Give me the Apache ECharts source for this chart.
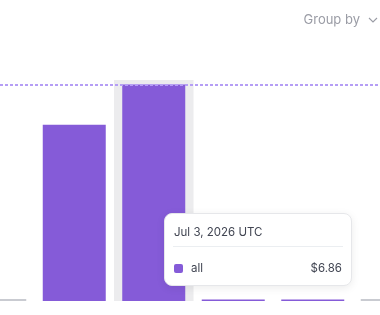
<!DOCTYPE html>
<html>
<head>
<meta charset="utf-8">
<script src="https://cdn.jsdelivr.net/npm/echarts@6/dist/echarts.min.js"></script>
<style>
  html, body { margin: 0; padding: 0; background: #fff; }
  #chart { width: 380px; height: 315px; }
</style>
</head>
<body>
<div id="chart"></div>
<script>
    // 数据
    var categories = ['Jul 1, 2026', 'Jul 2, 2026', 'Jul 3, 2026', 'Jul 4, 2026', 'Jul 5, 2026', 'Jul 6, 2026'];
    var values = [0.06, 5.58, 6.86, 0.05, 0.05, 0.06];
    var noData = [true, false, false, false, false, true];
    var seriesName = 'all';
    var maxValue = 6.86;
    var hoverIndex = 2;

    var purple = '#855bd8';

    var myChart = echarts.init(document.getElementById('chart'));

    var option = {
        animation: false,
        textStyle: { fontFamily: 'Inter, "Noto Sans", sans-serif' },
        grid: { left: -45, right: -52, top: 80, bottom: 14, outerBoundsMode: 'none' },
        graphic: [
            {
                type: 'text', right: 20, top: 14,
                style: { text: 'Group by', fill: '#9a9ca5', fontSize: 13, fontFamily: 'Inter, sans-serif' }
            },
            {
                type: 'polyline',
                shape: { points: [[369, 18], [373, 22], [377, 18]] },
                style: { stroke: '#9a9ca5', lineWidth: 1.1, fill: null }
            }
        ],
        tooltip: {
            trigger: 'axis',
            alwaysShowContent: true,
            axisPointer: {
                type: 'shadow',
                z: 1,
                shadowStyle: { color: '#ececee', opacity: 1 }
            },
            position: function () { return [164, 213]; },
            padding: 0,
            borderWidth: 1,
            borderColor: '#e6e7ea',
            borderRadius: 8,
            backgroundColor: '#fff',
            extraCssText: 'box-shadow:0 2px 8px rgba(0,0,0,0.08);width:186px;',
            formatter: function (params) {
                var p = params[0];
                return '<div style="font-family:Inter,sans-serif;font-size:11.5px;color:#414552;">' +
                    '<div style="padding:11px 9px 7px 9px;line-height:14px;">' + p.name + ' UTC</div>' +
                    '<div style="height:1px;background:#ebeef1;margin:0 8px;"></div>' +
                    '<div style="padding:14px 9px 10px 9px;line-height:14px;display:flex;align-items:center;">' +
                    '<span style="display:inline-block;width:9px;height:9px;border-radius:2px;background:' + purple + ';margin-right:8px;"></span>' +
                    '<span style="flex:1;">' + p.seriesName + '</span>' +
                    '<span>$' + p.value.toFixed(2) + '</span></div></div>';
            }
        },
        xAxis: {
            type: 'category',
            data: categories,
            axisLine: { show: false },
            axisTick: { show: false },
            axisLabel: { show: false }
        },
        yAxis: {
            type: 'value',
            min: 0,
            max: 7,
            show: false,
            splitLine: { show: false }
        },
        series: [
            {
                name: seriesName,
                type: 'bar',
                z: 2,
                barWidth: 63,
                data: values.map(function (v, i) {
                    return {
                        value: v,
                        itemStyle: { color: noData[i] ? '#c9cbd1' : purple }
                    };
                }),
                emphasis: { disabled: true }
            },
            {
                // 最大值虚线
                name: 'max',
                type: 'line',
                z: 0,
                data: [],
                tooltip: { show: false },
                markLine: {
                    silent: true,
                    symbol: 'none',
                    label: { show: false },
                    lineStyle: { color: '#b59ef5', type: [3, 2], width: 2 },
                    data: [{ yAxis: maxValue }]
                }
            }
        ]
    };

    myChart.setOption(option);
    myChart.dispatchAction({ type: 'showTip', seriesIndex: 0, dataIndex: hoverIndex });
</script>
</body>
</html>
